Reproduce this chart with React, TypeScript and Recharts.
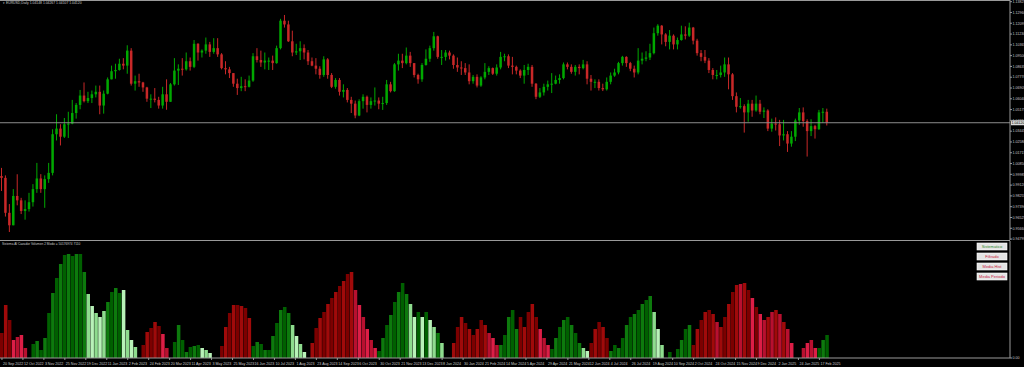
import { Bar, Cell, ComposedChart, ReferenceLine, XAxis, YAxis } from 'recharts';

// EURUSD daily, one candle every 3 sessions (open = previous close)
const firstOpen = 0.9985;
const closes = [
  0.997, 0.969, 0.959, 0.9825, 0.979, 0.9705, 0.972, 0.9775, 0.988, 0.9965,
  0.988, 0.996, 1.001, 1.032, 1.0365, 1.03, 1.04, 1.0405, 1.049, 1.0555,
  1.063, 1.0585, 1.061, 1.064, 1.066, 1.055, 1.0645, 1.076, 1.0825, 1.0835,
  1.0885, 1.087, 1.099, 1.0725, 1.0745, 1.0735, 1.0695, 1.0605, 1.0605, 1.0595,
  1.055, 1.064, 1.058, 1.072, 1.083, 1.0845, 1.084, 1.0905, 1.086, 1.1045,
  1.0975, 1.099, 1.104, 1.098, 1.101, 1.096, 1.085, 1.084, 1.081, 1.0725,
  1.069, 1.0705, 1.07, 1.075, 1.0945, 1.0915, 1.0895, 1.091, 1.091, 1.089,
  1.101, 1.123, 1.12, 1.1065, 1.0975, 1.0985, 1.101, 1.0975, 1.0905, 1.087,
  1.0845, 1.0795, 1.092, 1.0795, 1.07, 1.0755, 1.066, 1.0675, 1.0595, 1.0565,
  1.047, 1.0585, 1.062, 1.0555, 1.0585, 1.059, 1.0565, 1.057, 1.072, 1.0665,
  1.088, 1.091, 1.089, 1.095, 1.089, 1.0795, 1.076, 1.0875, 1.0925, 1.101,
  1.1105, 1.094, 1.094, 1.0975, 1.095, 1.0875, 1.0855, 1.085, 1.0815, 1.0745,
  1.078, 1.071, 1.0775, 1.082, 1.085, 1.0805, 1.0855, 1.094, 1.0945, 1.087,
  1.086, 1.083, 1.079, 1.0835, 1.086, 1.0725, 1.062, 1.0655, 1.07, 1.072,
  1.0725, 1.0755, 1.077, 1.088, 1.086, 1.082, 1.086, 1.085, 1.088, 1.0765,
  1.074, 1.074, 1.069, 1.068, 1.074, 1.079, 1.0815, 1.089, 1.094, 1.089,
  1.0845, 1.0815, 1.091, 1.0925, 1.0935, 1.097, 1.113, 1.119, 1.112, 1.106,
  1.111, 1.104, 1.1075, 1.112, 1.111, 1.1175, 1.107, 1.097, 1.094, 1.091,
  1.0835, 1.0795, 1.0795, 1.0815, 1.088, 1.08, 1.0625, 1.054, 1.0545, 1.0495,
  1.0565, 1.051, 1.0565, 1.05, 1.051, 1.0365, 1.0405, 1.04, 1.031, 1.032,
  1.0245, 1.03, 1.043, 1.0495, 1.0425, 1.0345, 1.0385, 1.036, 1.0495, 1.05,
  1.0412,
];
const highs = [
  1.005, 0.999, 0.976, 0.988, 0.9999, 0.981, 0.979, 0.985, 0.992, 1.009,
  1.0, 0.999, 1.009, 1.036, 1.048, 1.04, 1.045, 1.05, 1.0595, 1.057,
  1.0675, 1.0735, 1.066, 1.067, 1.071, 1.071, 1.067, 1.0775, 1.087, 1.0885,
  1.0925, 1.093, 1.1033, 1.101, 1.079, 1.0805, 1.074, 1.07, 1.064, 1.069,
  1.062, 1.07, 1.076, 1.073, 1.093, 1.088, 1.093, 1.0975, 1.0935, 1.1075,
  1.105, 1.1, 1.1095, 1.106, 1.109, 1.109, 1.097, 1.0905, 1.086, 1.081,
  1.0765, 1.078, 1.076, 1.079, 1.097, 1.101, 1.099, 1.0975, 1.0935, 1.095,
  1.103, 1.1245, 1.1276, 1.123, 1.115, 1.1045, 1.1065, 1.104, 1.0995, 1.0935,
  1.093, 1.0865, 1.0945, 1.093, 1.081, 1.077, 1.077, 1.072, 1.069, 1.062,
  1.059, 1.06, 1.064, 1.063, 1.0615, 1.0695, 1.0615, 1.062, 1.0755, 1.074,
  1.089, 1.0965, 1.0965, 1.1015, 1.098, 1.089, 1.0805, 1.089, 1.1, 1.103,
  1.114, 1.111, 1.0995, 1.0995, 1.099, 1.096, 1.0935, 1.0905, 1.089, 1.088,
  1.0795, 1.08, 1.0785, 1.089, 1.0865, 1.0855, 1.088, 1.098, 1.0965, 1.096,
  1.094, 1.087, 1.084, 1.0875, 1.0885, 1.0875, 1.073, 1.069, 1.0725, 1.075,
  1.081, 1.079, 1.08, 1.0895, 1.0895, 1.088, 1.0875, 1.088, 1.0916, 1.0905,
  1.0795, 1.076, 1.076, 1.0725, 1.0775, 1.0815, 1.0845, 1.09, 1.0948, 1.0945,
  1.09, 1.087, 1.101, 1.0975, 1.0985, 1.1045, 1.1175, 1.1202, 1.1195, 1.113,
  1.1155, 1.112, 1.1095, 1.119, 1.1185, 1.1214, 1.118, 1.1085, 1.0995, 1.0995,
  1.093, 1.085, 1.0835, 1.087, 1.0935, 1.0935, 1.081, 1.0655, 1.061, 1.056,
  1.0595, 1.0595, 1.063, 1.0595, 1.0535, 1.052, 1.0445, 1.0455, 1.0435, 1.0435,
  1.0345, 1.0345, 1.0445, 1.053, 1.0535, 1.044, 1.044, 1.0395, 1.0515, 1.053,
  1.0525,
];
const lows = [
  0.9865, 0.966, 0.9536, 0.959, 0.975, 0.968, 0.9635, 0.97, 0.974, 0.985,
  0.985, 0.973, 0.993, 0.999, 1.027, 1.023, 1.029, 1.029, 1.04, 1.0445,
  1.052, 1.0575, 1.057, 1.057, 1.0615, 1.048, 1.0485, 1.064, 1.076, 1.0765,
  1.083, 1.084, 1.0805, 1.071, 1.067, 1.07, 1.066, 1.058, 1.053, 1.0575,
  1.0525, 1.0525, 1.0516, 1.058, 1.071, 1.0715, 1.079, 1.083, 1.083, 1.085,
  1.091, 1.0935, 1.0965, 1.094, 1.0965, 1.094, 1.084, 1.08, 1.077, 1.07,
  1.0635, 1.0665, 1.0665, 1.0695, 1.074, 1.0895, 1.086, 1.084, 1.0835, 1.0835,
  1.0885, 1.1, 1.1175, 1.106, 1.0945, 1.0955, 1.0915, 1.092, 1.0875, 1.0865,
  1.08, 1.0765, 1.078, 1.0765, 1.069, 1.0685, 1.063, 1.0615, 1.0575, 1.049,
  1.0448, 1.0465, 1.0525, 1.0495, 1.0525, 1.055, 1.052, 1.0515, 1.0555, 1.0655,
  1.066, 1.083, 1.085, 1.088, 1.086, 1.0775, 1.0725, 1.074, 1.087, 1.09,
  1.099, 1.0925, 1.0875, 1.091, 1.092, 1.0845, 1.082, 1.0795, 1.0795, 1.072,
  1.0725, 1.0695, 1.07, 1.076, 1.0795, 1.0795, 1.079, 1.084, 1.0905, 1.085,
  1.08, 1.08, 1.077, 1.0725, 1.0795, 1.07, 1.0601, 1.061, 1.063, 1.067,
  1.065, 1.072, 1.0725, 1.076, 1.084, 1.0805, 1.079, 1.08, 1.084, 1.072,
  1.067, 1.069, 1.067, 1.0666, 1.067, 1.072, 1.078, 1.08, 1.087, 1.086,
  1.0825, 1.0775, 1.08, 1.088, 1.0905, 1.0915, 1.096, 1.111, 1.104, 1.1025,
  1.1, 1.1, 1.1, 1.107, 1.108, 1.11, 1.104, 1.095, 1.0905, 1.089,
  1.081, 1.076, 1.076, 1.0775, 1.078, 1.068, 1.0595, 1.0495, 1.0525, 1.0333,
  1.042, 1.046, 1.05, 1.048, 1.045, 1.0345, 1.034, 1.035, 1.0225, 1.027,
  1.0178, 1.022, 1.0265, 1.0395, 1.038, 1.0141, 1.0305, 1.0285, 1.0355, 1.041,
  1.039,
];
const bidPrice = 1.0412;
const priceTicks = [
  1.13825, 1.1296, 1.12095, 1.1123, 1.10365, 1.095, 1.08635, 1.0777, 1.06905, 1.0604,
  1.05175, 1.0431, 1.03445, 1.0258, 1.01715, 1.0085, 0.99985, 0.9912, 0.98255, 0.9739,
  0.96525, 0.9566, 0.94795,
];

// indicator histogram, one bar per candle
const volValues = [
  25, 53, 38, 18, 21, 23, 10, 0, 14, 17,
  8, 20, 45, 65, 80, 94, 103, 104, 102, 104,
  104, 86, 64, 52, 45, 41, 47, 56, 66, 70,
  65, 68, 28, 18, 11, 0, 13, 26, 30, 36,
  32, 24, 10, 0, 16, 33, 18, 6, 11, 12,
  13, 10, 8, 5, 0, 0, 12, 31, 45, 53,
  53, 52, 50, 40, 12, 16, 14, 8, 8, 22,
  35, 48, 51, 45, 33, 22, 14, 6, 0, 15,
  30, 40, 46, 54, 60, 66, 72, 77, 84, 86,
  68, 53, 41, 29, 18, 10, 7, 20, 33, 43,
  56, 66, 75, 64, 54, 41, 46, 41, 46, 38,
  31, 25, 15, 0, 0, 15, 31, 41, 35, 29,
  23, 29, 38, 33, 25, 20, 13, 13, 23, 41,
  48, 29, 41, 31, 46, 54, 41, 29, 20, 13,
  9, 20, 31, 38, 41, 33, 25, 15, 10, 7,
  15, 29, 36, 31, 20, 7, 13, 10, 20, 33,
  41, 44, 48, 54, 58, 62, 46, 29, 13, 0,
  6, 0, 9, 18, 29, 33, 13, 29, 38, 46,
  48, 44, 36, 31, 41, 54, 66, 73, 74, 75,
  68, 60, 51, 44, 38, 41, 46, 48, 44, 36,
  29, 15, 0, 0, 10, 15, 18, 10, 10, 18,
  23,
];
const volColors =
  'RRRPPPP-GG' + 'GGGGGGGGGG' + 'GGLLLLLGGG' + 'GLLLL-RRRR' + 'RPP-GGGGGG' +
  'GLLL--RRRR' + 'RRRRGGGGGG' + 'GGGGLLLL-R' + 'RRRRRRRRRR' + 'PPPPPPGGGG' +
  'GGGGLLGLGL' + 'LGL--RRRRR' + 'RRRRPPPGGG' + 'GGRRRRRPPP' + 'GGGGGGGGLL' +
  'RRRRRGGGGG' + 'GGGGGGLLL-' + 'G-GGGGRRRR' + 'RRPRRRRRPR' + 'RPRPPRPRPR' +
  'PP--PPPPGG' + 'G';

const dateLabels = [
  '20 Sep 2022', '12 Oct 2022', '3 Nov 2022', '25 Nov 2022', '19 Dec 2022', '11 Jan 2023',
  '2 Feb 2023', '24 Feb 2023', '20 Mar 2023', '11 Apr 2023', '3 May 2023', '25 May 2023',
  '16 Jun 2023', '10 Jul 2023', '1 Aug 2023', '23 Aug 2023', '14 Sep 2023', '6 Oct 2023',
  '30 Oct 2023', '21 Nov 2023', '13 Dec 2023', '8 Jan 2024', '30 Jan 2024', '21 Feb 2024',
  '14 Mar 2024', '5 Apr 2024', '29 Apr 2024', '21 May 2024', '12 Jun 2024', '4 Jul 2024',
  '26 Jul 2024', '19 Aug 2024', '10 Sep 2024', '2 Oct 2024', '24 Oct 2024', '15 Nov 2024',
  '9 Dec 2024', '2 Jan 2025', '24 Jan 2025', '17 Feb 2025',
];
const legendItems = ['Sistematico', 'Filtrado', 'Media Hist', 'Media Periodo'];

const W = 1024;
const MAIN_H = 240;
const IND_H = 126;
const X_DOMAIN: [number, number] = [-0.5, 256.5];
const AXIS = '#9a9a9a';
const TXT = '#c8c8c8';

const candles = closes.map((c, i) => {
  const o = i === 0 ? firstOpen : closes[i - 1];
  return {
    i,
    hl: [lows[i], highs[i]],
    hi: highs[i],
    lo: lows[i],
    top: Math.max(o, c),
    bot: Math.min(o, c),
    up: c >= o,
  };
});
const volData = volValues.map((v, i) => ({ i, v, c: volColors[i] }));
const dateTicks = dateLabels.map((_, k) => (k * 16) / 3);

function volFill(code: string, i: number) {
  const odd = i % 2 === 1;
  if (code === 'G') return odd ? '#0d7a0d' : '#006000';
  if (code === 'L') return odd ? '#b8f2b8' : '#8edc8e';
  if (code === 'R') return odd ? '#a00a0a' : '#7c0000';
  if (code === 'P') return odd ? '#dc1e46' : '#b8102f';
  return 'transparent';
}

// the bar spans low..high; body is placed inside it proportionally
function Candle(props: any) {
  const { x, y, width, height, payload } = props;
  const h = Math.abs(height);
  const y0 = height < 0 ? y + height : y;
  const span = payload.hi - payload.lo || 1;
  const bTop = y0 + ((payload.hi - payload.top) / span) * h;
  const bH = Math.max(1, ((payload.top - payload.bot) / span) * h);
  const cx = x + width / 2;
  const col = payload.up ? '#00a800' : '#c82828';
  return (
    <g>
      <line x1={cx} x2={cx} y1={y0} y2={y0 + h} stroke={col} strokeWidth={1} />
      <rect x={cx - 1.25} y={bTop} width={2.5} height={bH} fill={col} />
    </g>
  );
}

function DateTick(props: any) {
  const { x, y, payload } = props;
  const k = Math.round((payload.value * 3) / 16);
  return (
    <text x={x + 1} y={y + 3} fontSize={3.6} fill={TXT} textAnchor="start" fontFamily="Liberation Sans">
      {dateLabels[k]}
    </text>
  );
}

function BidLabel(props: any) {
  const { viewBox } = props;
  const x = viewBox.x + viewBox.width;
  return (
    <g>
      <rect x={x + 1} y={viewBox.y - 2.5} width={13} height={5} fill="#d8d8d8" />
      <text x={x + 1.5} y={viewBox.y + 1.3} fontSize={3.6} fill="#000" fontFamily="Liberation Sans">
        {bidPrice.toFixed(5)}
      </text>
    </g>
  );
}

export default function App() {
  return (
    <div
      style={{
        position: 'fixed',
        left: 0,
        top: 0,
        width: W,
        height: 367,
        background: '#000',
        overflow: 'hidden',
      }}
    >
      <div style={{ position: 'absolute', left: 0, top: 0 }}>
        <ComposedChart width={W} height={MAIN_H} data={candles} margin={{ top: 0, right: 0, bottom: 0, left: 0 }}>
          <XAxis type="number" dataKey="i" domain={X_DOMAIN} allowDataOverflow hide />
          <YAxis
            orientation="right"
            width={14}
            domain={[0.9472, 1.1396]}
            allowDataOverflow
            ticks={priceTicks}
            interval={0}
            tickFormatter={(v: number) => v.toFixed(5)}
            tick={{ fontSize: 3.6, fill: TXT, fontFamily: 'Liberation Sans' }}
            tickSize={2}
            tickMargin={0.5}
            tickLine={{ stroke: AXIS }}
            axisLine={{ stroke: AXIS }}
          />
          <ReferenceLine y={bidPrice} stroke="#8c8c8c" strokeWidth={1} label={<BidLabel />} />
          <Bar dataKey="hl" barSize={3} shape={<Candle />} isAnimationActive={false} />
        </ComposedChart>
      </div>
      <div style={{ position: 'absolute', left: 0, top: 0, width: 1010, height: 1, background: AXIS }} />
      <div style={{ position: 'absolute', left: 0, top: MAIN_H, width: 1010, height: 1, background: AXIS }} />
      <div style={{ position: 'absolute', left: 0, top: MAIN_H + 1 }}>
        <ComposedChart width={W} height={IND_H} data={volData} margin={{ top: 0, right: 0, bottom: 0, left: 0 }}>
          <XAxis
            type="number"
            dataKey="i"
            domain={X_DOMAIN}
            allowDataOverflow
            ticks={dateTicks}
            interval={0}
            height={9}
            tick={<DateTick />}
            tickSize={2}
            tickLine={{ stroke: AXIS }}
            axisLine={{ stroke: AXIS }}
          />
          <YAxis
            orientation="right"
            width={14}
            domain={[0, 117]}
            allowDataOverflow
            ticks={[0]}
            tickFormatter={() => '0.00'}
            tick={{ fontSize: 3.6, fill: TXT, fontFamily: 'Liberation Sans' }}
            tickSize={2}
            tickMargin={0.5}
            tickLine={{ stroke: AXIS }}
            axisLine={{ stroke: AXIS }}
          />
          <Bar dataKey="v" barSize={4} isAnimationActive={false}>
            {volData.map((d) => (
              <Cell key={d.i} fill={volFill(d.c, d.i)} />
            ))}
          </Bar>
        </ComposedChart>
      </div>
      <svg width={W} height={367} style={{ position: 'absolute', left: 0, top: 0, pointerEvents: 'none' }}>
        <text x={3} y={4} fontSize={3.4} fill={TXT} fontFamily="Liberation Sans">
          ▾ EURUSD,Daily  1.04148 1.04267 1.04107 1.04120
        </text>
        <text x={2} y={MAIN_H + 5} fontSize={3.2} fill={TXT} fontFamily="Liberation Sans">
          Sistema Al Cazador Volumen 2  Modo = 50176974 7110
        </text>
        {legendItems.map((t, k) => (
          <g key={t}>
            <rect x={977} y={MAIN_H + 3 + k * 10} width={30} height={7} fill="#e4e4e4" stroke="#ffffff" strokeWidth={0.6} />
            <text
              x={992}
              y={MAIN_H + 8 + k * 10}
              fontSize={4}
              textAnchor="middle"
              fill={k === 0 ? '#2e8b2e' : '#c8203c'}
              fontFamily="Liberation Sans"
            >
              {t}
            </text>
          </g>
        ))}
      </svg>
    </div>
  );
}
